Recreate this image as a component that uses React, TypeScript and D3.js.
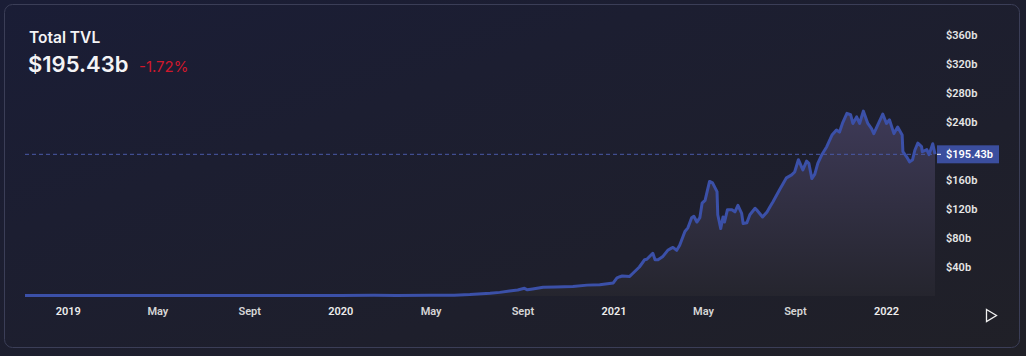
import React from "react";
import * as d3 from "d3";

const dates: string[] = [
  "2018-11-04","2019-01-01","2019-03-01","2019-05-01","2019-07-01","2019-09-01","2019-11-01",
  "2020-01-01","2020-02-15","2020-03-15","2020-05-01","2020-06-01","2020-06-22","2020-07-19",
  "2020-08-01","2020-08-14","2020-08-25","2020-09-03","2020-09-07","2020-09-14","2020-09-28",
  "2020-10-15","2020-11-07","2020-11-26","2020-12-13","2020-12-31","2021-01-05","2021-01-09",
  "2021-01-12","2021-01-22","2021-01-26","2021-02-04","2021-02-11","2021-02-14","2021-02-22",
  "2021-02-25","2021-03-01","2021-03-07","2021-03-14","2021-03-19","2021-03-21","2021-03-26",
  "2021-03-30","2021-04-06","2021-04-10","2021-04-15","2021-04-18","2021-04-22","2021-04-26",
  "2021-04-29","2021-05-03","2021-05-09","2021-05-13","2021-05-19","2021-05-20","2021-05-24",
  "2021-05-27","2021-05-29","2021-06-02","2021-06-08","2021-06-12","2021-06-16","2021-06-21",
  "2021-06-23","2021-06-28","2021-07-02","2021-07-09","2021-07-11","2021-07-19","2021-07-25",
  "2021-07-29","2021-08-02","2021-08-11","2021-08-20","2021-08-27","2021-08-31","2021-09-05",
  "2021-09-11","2021-09-16","2021-09-19","2021-09-23","2021-09-27","2021-10-01","2021-10-06",
  "2021-10-13","2021-10-20","2021-10-26","2021-10-30","2021-11-03","2021-11-09","2021-11-14",
  "2021-11-17","2021-11-22","2021-11-26","2021-12-01","2021-12-07","2021-12-12","2021-12-15",
  "2021-12-19","2021-12-27","2022-01-01","2022-01-05","2022-01-11","2022-01-16","2022-01-22",
  "2022-01-23","2022-01-28","2022-02-01","2022-02-05","2022-02-08","2022-02-12","2022-02-17",
  "2022-02-18","2022-02-24","2022-02-27","2022-03-04","2022-03-07",
];

const tvl: number[] = [
  0.6,0.55,0.6,0.75,0.85,0.8,0.7,
  0.7,1.0,0.6,0.9,1.2,2.0,3.7,
  5.0,7.0,8.3,10.6,8.5,9.6,12,
  12.5,13,15,15.5,18,25,26.6,
  27.6,27,31,40,50,50.6,59,
  50,50,54,63,66,67,63,
  70,89,94,108,110,102,108,
  128,132,158,156,144,112,93,
  109,102,119,119,116,125,114,
  100,101,112,121,119,109,116,
  123,130,147,163,167,171,188,
  174,186,183,162,168,183,194,
  206,222,229,226,238,252,250,
  238,247,238,255,238,231,224,
  233,251,238,243,224,233,222,
  199,192,185,188,201,211,206,
  199,202,195,210,195.43,
];

const yTicks: number[] = [40, 80, 120, 160, 200, 240, 280, 320, 360];
const xTickDates: string[] = ["2019-01-01","2019-05-01","2019-09-01","2020-01-01","2020-05-01","2020-09-01","2021-01-01","2021-05-01","2021-09-01","2022-01-01"];
const xTickLabels: string[] = ["2019","May","Sept","2020","May","Sept","2021","May","Sept","2022"];

const title = "Total TVL";
const currentValue = 195.43;
const currentLabel = "$195.43b";
const changeLabel = "-1.72%";

export default function App() {
  const W = 1026, H = 356;
  const parse = d3.timeParse("%Y-%m-%d");
  const data = dates.map((d, i) => ({ date: parse(d) as Date, v: tvl[i] }));
  const x = d3.scaleTime()
    .domain([parse(dates[0]) as Date, parse(dates[dates.length - 1]) as Date])
    .range([25, 935]);
  const y = d3.scaleLinear().domain([0, 360]).range([296, 35]);

  const line = d3.line<{ date: Date; v: number }>().x(d => x(d.date)).y(d => y(d.v));
  const area = d3.area<{ date: Date; v: number }>().x(d => x(d.date)).y0(y(0)).y1(d => y(d.v));

  const cy = y(currentValue);
  const font = "Roboto, 'Noto Sans', sans-serif";
  const headFont = "Inter, Roboto, sans-serif";

  return (
    <svg width={W} height={H} style={{ position: "absolute", left: 0, top: 0 }} xmlns="http://www.w3.org/2000/svg">
      <defs>
        <linearGradient id="bg" x1="0" y1="0" x2="1" y2="1">
          <stop offset="0" stopColor="#1a1d36" />
          <stop offset="1" stopColor="#202027" />
        </linearGradient>
        <linearGradient id="af" gradientUnits="userSpaceOnUse" x1="0" y1={y(260)} x2="0" y2={y(0)}>
          <stop offset="0" stopColor="#3e3a58" />
          <stop offset="1" stopColor="#25252e" />
        </linearGradient>
      </defs>
      <rect x={0} y={0} width={W} height={H} fill="url(#bg)" />
      <rect x={4.5} y={4.5} width={1015} height={343} rx={8} ry={8} fill="none" stroke="#3b3e57" strokeWidth={1} />

      <text x={29} y={43} fill="#f4f4f6" fontFamily={headFont} fontSize={15.5} fontWeight={600}>{title}</text>
      <text x={28} y={72} fill="#f4f4f6" fontFamily={headFont} fontSize={22} fontWeight={600}>{currentLabel}</text>
      <text x={139} y={72} fill="#d0182c" fontFamily={headFont} fontSize={15}>{changeLabel}</text>

      <path d={area(data) || ""} fill="url(#af)" />
      <line x1={25} x2={935} y1={cy} y2={cy} stroke="#4a5aa8" strokeWidth={1} strokeDasharray="4,3" />
      <path d={line(data) || ""} fill="none" stroke="#3b50a8" strokeWidth={3} strokeLinejoin="round" />

      {yTicks.filter(t => Math.abs(y(t) - cy) > 12).map(t => (
        <text key={t} x={946} y={y(t)} dy="0.35em" fill="#e6e6e6" fontFamily={font} fontSize={11} fontWeight={600}>
          ${t}b
        </text>
      ))}
      <rect x={937} y={cy - 9} width={62} height={18} fill="#3b4e9e" />
      <line x1={937} x2={941} y1={cy} y2={cy} stroke="#ffffff" strokeWidth={1} />
      <text x={946} y={cy} dy="0.35em" fill="#ffffff" fontFamily={font} fontSize={11} fontWeight={600}>{currentLabel}</text>

      {xTickDates.map((d, i) => (
        <text key={d + i} x={x(parse(d) as Date)} y={315} textAnchor="middle"
          fill={i % 3 === 0 ? "#ececec" : "#d6d6d6"} fontFamily={font} fontSize={11} fontWeight={600}>
          {xTickLabels[i]}
        </text>
      ))}

      <path d="M986.5,309.5 L996.5,315.5 L986.5,321.5 Z" fill="none" stroke="#f0f0f0" strokeWidth={1.3} strokeLinejoin="miter" />
    </svg>
  );
}
